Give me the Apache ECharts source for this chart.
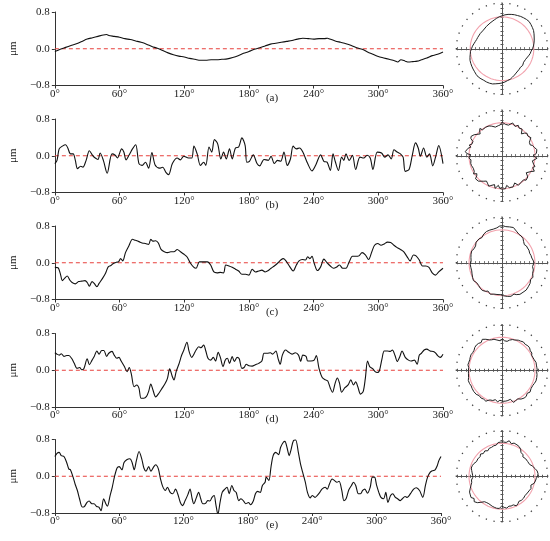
<!DOCTYPE html>
<html><head><meta charset="utf-8">
<script src="https://cdn.jsdelivr.net/npm/echarts@6/dist/echarts.min.js"></script>
<style>html,body{margin:0;padding:0;background:#fff}#c{width:550px;height:541px}</style>
</head><body><div id="c"></div>
<script>
// Roundness deviation profiles: [angle (deg), deviation (µm)]
const profileA = [[0,-0.06],[5,-0.01],[10,0.03],[15,0.07],[20,0.11],[25,0.16],[30,0.21],[35,0.24],[40,0.27],[45,0.30],[48,0.31],[50,0.29],[55,0.27],[60,0.25],[65,0.22],[70,0.20],[75,0.17],[80,0.14],[85,0.10],[90,0.05],[95,0.01],[100,-0.04],[105,-0.09],[110,-0.13],[115,-0.16],[120,-0.18],[125,-0.21],[130,-0.23],[135,-0.25],[140,-0.25],[145,-0.24],[150,-0.24],[155,-0.23],[160,-0.22],[165,-0.19],[170,-0.15],[175,-0.10],[180,-0.06],[185,-0.01],[190,0.02],[195,0.06],[200,0.10],[205,0.12],[210,0.14],[215,0.16],[220,0.18],[225,0.21],[230,0.23],[235,0.22],[240,0.21],[245,0.22],[250,0.22],[253,0.23],[255,0.21],[260,0.17],[265,0.14],[270,0.11],[275,0.07],[280,0.02],[285,-0.01],[290,-0.07],[295,-0.12],[300,-0.17],[305,-0.20],[310,-0.23],[315,-0.26],[318,-0.29],[321,-0.24],[325,-0.27],[328,-0.29],[332,-0.28],[336,-0.27],[340,-0.24],[345,-0.20],[350,-0.15],[355,-0.12],[360,-0.07]];

const profileB = [[0,-0.17],[2,-0.10],[4,0.15],[7,0.21],[10,0.24],[12,0.17],[14.5,0.04],[17,0.04],[19,-0.10],[21,-0.28],[24,-0.23],[26,-0.25],[29,-0.10],[32,0.11],[35,0.01],[37.5,-0.05],[40,-0.08],[42,0.06],[45,-0.10],[48.5,-0.38],[53,0.04],[56,0.01],[58,-0.05],[62,0.15],[64,0.08],[66,-0.09],[69,0.02],[72,0.15],[75,0.24],[78,-0.17],[81,-0.21],[84,-0.14],[87,-0.27],[90,0.07],[93,-0.20],[97,-0.27],[100,-0.25],[103,-0.36],[105.5,-0.41],[109,-0.17],[113.5,-0.05],[116.5,-0.09],[119.5,-0.01],[124,-0.05],[127,-0.05],[129,0.21],[132,0.04],[135,-0.21],[138,-0.14],[140,-0.21],[143,0.19],[145.5,0.08],[148,0.35],[151,0.26],[154,-0.07],[156.5,0.08],[159,-0.07],[162,0.15],[164.5,-0.07],[167.5,0.17],[170.5,0.19],[173.5,0.39],[176.5,0.22],[178,-0.14],[180.5,-0.12],[184,0.02],[187.5,-0.17],[190,-0.22],[194,-0.08],[198,-0.10],[200.5,-0.01],[203.5,-0.17],[206.5,-0.10],[209.5,-0.12],[212.5,0.08],[215.5,-0.21],[218.5,-0.07],[221,0.21],[224,0.15],[227,0.17],[230,0.08],[234.5,-0.17],[238.5,-0.33],[242,-0.20],[246.5,0.02],[249.5,-0.12],[252.5,-0.14],[255.5,-0.32],[258,0.04],[260,-0.12],[263,-0.32],[266,-0.03],[268,-0.10],[270,0.04],[273,-0.10],[276,0.01],[279,-0.30],[283,-0.03],[286.5,-0.05],[289.5,0.01],[292.5,-0.05],[295,-0.30],[299,0.08],[303,0.06],[306,-0.03],[309,0.02],[312,-0.07],[314.5,0.13],[317.5,0.08],[320.5,0.04],[323,-0.03],[325,-0.34],[328.5,-0.30],[331.5,0.01],[334.5,0.28],[337,0.17],[339,-0.01],[342,0.17],[345,-0.03],[347.5,0.04],[350.5,-0.22],[353.5,0.01],[356,0.22],[360,-0.17]];

const profileC = [[0,-0.10],[3,-0.11],[5,-0.23],[7,-0.39],[9,-0.34],[11.5,-0.29],[14,-0.38],[16,-0.43],[19,-0.46],[22,-0.41],[25,-0.40],[28,-0.39],[30,-0.43],[32,-0.51],[34.5,-0.41],[36.5,-0.45],[39,-0.52],[41,-0.45],[44.5,-0.33],[47,-0.23],[49.5,-0.09],[52,-0.06],[54.5,-0.01],[57,0.01],[59,0.02],[61,0.09],[63,0.04],[65.5,0.22],[68.5,0.36],[72,0.51],[74.5,0.49],[78,0.46],[81,0.43],[84,0.42],[87,0.40],[89,0.51],[91,0.47],[93.5,0.48],[96,0.43],[98.5,0.29],[101.5,0.24],[104.5,0.22],[107.5,0.24],[110.5,0.24],[113.5,0.29],[116.5,0.24],[119.5,0.19],[122.5,0.13],[125.5,0.00],[128.5,-0.09],[131,-0.12],[134,0.02],[137,0.02],[141.5,0.02],[144.5,-0.05],[147.5,-0.20],[150.5,-0.22],[153.5,-0.21],[156.5,-0.22],[158.5,-0.05],[161.5,-0.07],[164.5,-0.10],[167.5,-0.14],[170.5,-0.18],[173.5,-0.25],[177,-0.25],[180,-0.27],[183,-0.14],[186,-0.20],[189,-0.18],[192,-0.16],[195,-0.20],[198,-0.17],[200.5,-0.12],[203.5,-0.07],[207,0.00],[209.5,0.06],[212,0.09],[215,0.02],[218,-0.09],[221,-0.18],[224,-0.05],[226.5,0.04],[229.5,0.07],[232.5,0.06],[234.5,0.13],[236.5,0.09],[238.5,0.14],[240.5,-0.01],[243.5,-0.17],[246.5,-0.09],[249.5,0.08],[252.5,0.00],[255.5,-0.07],[258.5,-0.12],[261,-0.10],[264,-0.05],[267,-0.12],[270,-0.12],[273,0.02],[276,0.14],[279,0.14],[282,0.15],[285,0.22],[288,0.17],[291,0.07],[294,0.24],[296.5,0.38],[299.5,0.42],[302.5,0.38],[305.5,0.41],[308.5,0.45],[311.5,0.44],[314.5,0.38],[317.5,0.33],[320.5,0.29],[323.5,0.24],[326.5,0.14],[329.5,0.04],[332.5,0.17],[335,0.15],[338,0.06],[341,-0.07],[344,-0.07],[347,-0.10],[350,-0.22],[353,-0.27],[356,-0.20],[360,-0.12]];

const profileD = [[0,0.38],[2,0.35],[4,0.33],[6,0.36],[8.5,0.30],[11,0.32],[13,0.32],[15.5,0.26],[18,0.15],[20.5,0.04],[23,0.06],[25,0.01],[27,0.04],[30,0.25],[32,0.12],[34.5,0.22],[36.5,0.30],[39,0.42],[41,0.35],[43.5,0.43],[45.5,0.43],[48,0.30],[50,0.37],[53,0.41],[55,0.33],[57.5,0.26],[59.5,0.28],[61.5,0.20],[64.5,0.08],[67,-0.03],[69,0.06],[71,-0.09],[73.5,-0.36],[76,-0.32],[78,-0.39],[80,-0.61],[82.5,-0.61],[85,-0.57],[87,-0.46],[89,-0.30],[91,-0.43],[93.5,-0.58],[96.5,-0.50],[99.5,-0.39],[102.5,-0.28],[104.5,-0.17],[106.5,0.03],[109,-0.14],[110.5,-0.21],[112.5,-0.03],[115,0.13],[117.5,0.32],[119.5,0.43],[122.5,0.61],[124.5,0.41],[127,0.28],[129,0.35],[131,0.44],[133.5,0.51],[135.5,0.49],[138,0.55],[140,0.42],[142,0.26],[144.5,0.22],[147,0.28],[149,0.20],[151.5,0.39],[153.5,0.28],[156,0.08],[158,0.22],[160,0.26],[162,0.15],[164.5,0.30],[166.5,0.19],[169,0.28],[171,0.25],[173.5,0.04],[175.5,0.06],[177.5,0.13],[180,0.10],[183,0.09],[186,0.12],[189,0.15],[192,0.20],[194,0.37],[197,0.37],[200,0.38],[202,0.35],[205,0.42],[207,0.26],[209,0.13],[211,0.33],[214,0.44],[217,0.39],[220,0.35],[223,0.38],[226,0.33],[228,0.19],[230,0.33],[233,0.30],[234.5,0.20],[237.5,0.20],[240.5,0.22],[242.5,0.32],[245,0.04],[248,-0.16],[251,-0.21],[253,-0.23],[255.5,-0.39],[257.5,-0.48],[260,-0.28],[262,-0.17],[264,-0.28],[266,-0.48],[269,-0.38],[272,-0.32],[274.5,-0.21],[277,-0.32],[279,-0.25],[281,-0.36],[283.5,-0.52],[286,-0.46],[288,-0.17],[290,0.20],[292,0.08],[294.5,0.04],[297,-0.03],[299,-0.05],[301,-0.01],[303.5,0.26],[305.5,0.42],[308.5,0.42],[311,0.41],[313,0.44],[315.5,0.32],[317.5,0.19],[320,0.30],[322,0.42],[325,0.28],[328,0.22],[330.5,0.20],[333.5,0.22],[336,0.13],[338,0.33],[340,0.37],[342.5,0.44],[345,0.46],[348,0.42],[351,0.41],[353,0.38],[355,0.32],[357.5,0.28],[360,0.35]];

const profileE = [[0,0.43],[2,0.50],[4,0.52],[6,0.45],[8.5,0.43],[11,0.30],[13,0.16],[14.5,0.14],[17,-0.02],[19,-0.18],[21,-0.31],[23,-0.49],[25.5,-0.67],[27.5,-0.66],[30,-0.57],[32,-0.54],[34.5,-0.60],[36.5,-0.60],[39,-0.66],[41,-0.67],[43,-0.75],[45.5,-0.49],[47.5,-0.60],[49,-0.65],[51.5,-0.42],[53.5,-0.24],[55.5,-0.02],[58,0.18],[60,0.21],[62.5,0.14],[64.5,0.30],[67,0.36],[70,0.38],[72,0.30],[74,0.14],[76,0.34],[78.5,0.54],[81,0.38],[83,0.18],[85,0.11],[87.5,0.21],[89.5,0.11],[92,0.20],[94,0.25],[96.5,0.16],[98.5,-0.06],[100.5,-0.22],[103,-0.31],[105,-0.24],[107.5,-0.35],[110,-0.38],[112.5,-0.28],[114.5,-0.38],[117,-0.57],[119,-0.64],[121.5,-0.53],[124,-0.40],[126,-0.28],[128,-0.49],[129.5,-0.60],[132,-0.46],[134,-0.35],[136,-0.49],[138,-0.60],[140.5,-0.59],[142.5,-0.53],[144.5,-0.54],[146.5,-0.46],[148.5,-0.42],[150,-0.60],[152,-0.83],[154,-0.57],[156,-0.35],[158.5,-0.28],[160.5,-0.24],[162.5,-0.38],[165,-0.20],[167,-0.31],[169,-0.35],[171.5,-0.53],[173.5,-0.49],[176,-0.54],[178,-0.60],[180.5,-0.57],[182.5,-0.62],[185,-0.54],[187,-0.38],[189,-0.33],[191.5,-0.35],[193.5,-0.20],[196,-0.13],[197,-0.02],[199.5,-0.09],[201.5,0.20],[203.5,0.45],[206,0.52],[208.5,0.47],[210.5,0.63],[213,0.74],[214.5,0.76],[216.5,0.62],[218.5,0.45],[220,0.56],[222.5,0.78],[224.5,0.79],[227,0.52],[229,0.27],[231,0.09],[233.5,-0.13],[235.5,-0.35],[238,-0.47],[240,-0.42],[242.5,-0.46],[244.5,-0.42],[247,-0.35],[249,-0.28],[252,-0.24],[254,-0.28],[256,-0.17],[258.5,-0.06],[260.5,-0.09],[263,-0.13],[265,-0.11],[267.5,-0.31],[269.5,-0.53],[271.5,-0.49],[274,-0.30],[276.5,-0.20],[278.5,-0.13],[280.5,-0.20],[283,-0.38],[285,-0.38],[287,-0.31],[289,-0.28],[291.5,-0.37],[294,-0.24],[296,-0.02],[298,-0.02],[300,-0.20],[302,-0.35],[304,-0.46],[306.5,-0.49],[308.5,-0.35],[310.5,-0.57],[313,-0.42],[315,-0.38],[317.5,-0.46],[319.5,-0.49],[322,-0.53],[324,-0.49],[326.5,-0.44],[328.5,-0.46],[331.5,-0.38],[334.5,-0.28],[337,-0.25],[340,-0.31],[343,-0.46],[345.5,-0.20],[347.5,-0.02],[350,0.09],[352,0.12],[354.5,0.14],[356.5,0.23],[358,0.34],[360,0.43]];

const captions = ['(a)', '(b)', '(c)', '(d)', '(e)'];
// zero reference line (µm) across the full angle range
const zeroLine = [[0, 0], [360, 0]];
// radial axis range (µm) of each polar roundness plot
const polarRanges = [[-1.45, 0.6], [-3.3, 1.2], [-4.1, 1.5], [-5.5, 2.0], [-5.5, 2.0]];

const FONT = 'Liberation Serif';
const profiles = [profileA, profileB, profileC, profileD, profileE];
const tops = [12, 119, 226, 333.5, 439.5];
const H = 73.5;
const lefts = [37, 37, 37, 37, 34];
const widths = [406, 406, 406, 406, 407];
const PCX = 502, PR = 45;
const AX = '#333';

function fmtY(v) {
  if (Math.abs(v) < 1e-9) return '0.0';
  return (v < 0 ? '\u2212' : '') + Math.abs(v).toFixed(1);
}

const grid = [], xAxis = [], yAxis = [], polar = [], angleAxis = [], radiusAxis = [], series = [], graphic = [];

profiles.forEach((prof, i) => {
  grid.push({ left: lefts[i], top: tops[i], width: widths[i], height: H });
  xAxis.push({
    gridIndex: i, type: 'value', min: 0, max: 360, interval: 60,
    axisLine: { onZero: false, lineStyle: { color: AX, width: 1 } },
    axisTick: { show: true, length: 3, lineStyle: { color: AX } },
    axisLabel: { fontFamily: FONT, fontSize: 11, color: '#222', margin: 3, formatter: v => v + '°' },
    splitLine: { show: false }
  });
  yAxis.push({
    gridIndex: i, type: 'value', min: -0.8, max: 0.8, interval: 0.8,
    name: 'μm', nameLocation: 'middle', nameRotate: 90, nameGap: 23,
    nameTextStyle: { fontFamily: FONT, fontSize: 11, color: '#222' },
    axisLine: { show: true, onZero: false, lineStyle: { color: AX, width: 1 } },
    axisTick: { show: true, length: 3, lineStyle: { color: AX } },
    axisLabel: { fontFamily: FONT, fontSize: 11, color: '#222', margin: 5, formatter: fmtY },
    splitLine: { show: false }
  });
  series.push({
    type: 'line', xAxisIndex: i, yAxisIndex: i, data: zeroLine,
    showSymbol: false, silent: true, z: 1,
    lineStyle: { color: '#e8403c', type: [4, 3], width: 1.2 }
  });
  series.push({
    type: 'line', xAxisIndex: i, yAxisIndex: i, data: prof,
    showSymbol: false, smooth: 0.3, silent: true, z: 3,
    lineStyle: { color: '#111', width: 1.1 }
  });
  graphic.push({
    type: 'text', x: 272, y: tops[i] + H + 12.5,
    style: { text: captions[i], fontFamily: FONT, fontSize: 11, fill: '#222', textAlign: 'center', textVerticalAlign: 'middle', verticalAlign: 'middle' }
  });
});

// Crosshair axes behind each polar plot
profiles.forEach((prof, i) => {
  const yc = tops[i] + H / 2;
  const g = 5 + i;
  grid.push({ left: PCX - PR, top: yc - PR, width: 2 * PR, height: 2 * PR });
  ['bottom', 'top'].forEach(pos => xAxis.push({
    gridIndex: g, type: 'value', min: -1, max: 1, interval: 0.1, position: pos,
    axisLine: { onZero: true, lineStyle: { color: '#555', width: 1 } },
    axisTick: { show: true, length: 1.5, lineStyle: { color: '#555' } },
    axisLabel: { show: false }, splitLine: { show: false }
  }));
  ['left', 'right'].forEach(pos => yAxis.push({
    gridIndex: g, type: 'value', min: -1, max: 1, interval: 0.1, position: pos,
    axisLine: { show: true, onZero: true, lineStyle: { color: '#555', width: 1 } },
    axisTick: { show: true, length: 1.5, lineStyle: { color: '#555' } },
    axisLabel: { show: false }, splitLine: { show: false }
  }));
  polar.push({ center: [PCX, yc], radius: PR });
  angleAxis.push({
    polarIndex: i, type: 'value', min: 0, max: 360, interval: 10, startAngle: 0, clockwise: false,
    axisLine: { show: false },
    axisTick: { show: true, length: 1.3, lineStyle: { color: '#444', width: 1.3 } },
    axisLabel: { show: false }, splitLine: { show: false }
  });
  radiusAxis.push({
    polarIndex: i, type: 'value', min: polarRanges[i][0], max: polarRanges[i][1],
    axisLine: { show: false }, axisTick: { show: false }, axisLabel: { show: false }, splitLine: { show: false }
  });
  const ring = [];
  for (let a = 0; a <= 360; a += 5) ring.push([0, a]);
  series.push({
    type: 'line', coordinateSystem: 'polar', polarIndex: i, data: ring,
    showSymbol: false, silent: true, z: 2,
    lineStyle: { color: '#f2a2ad', width: 1.1 }
  });
  series.push({
    type: 'line', coordinateSystem: 'polar', polarIndex: i,
    data: prof.map(p => [p[1], p[0]]),
    showSymbol: false, silent: true, z: 3,
    lineStyle: { color: '#222', width: 1 }
  });
});

const chart = echarts.init(document.getElementById('c'), null, { renderer: 'canvas' });
chart.setOption({
  animation: false, backgroundColor: '#fff',
  grid, xAxis, yAxis, polar, angleAxis, radiusAxis, series, graphic
});
</script></body></html>
